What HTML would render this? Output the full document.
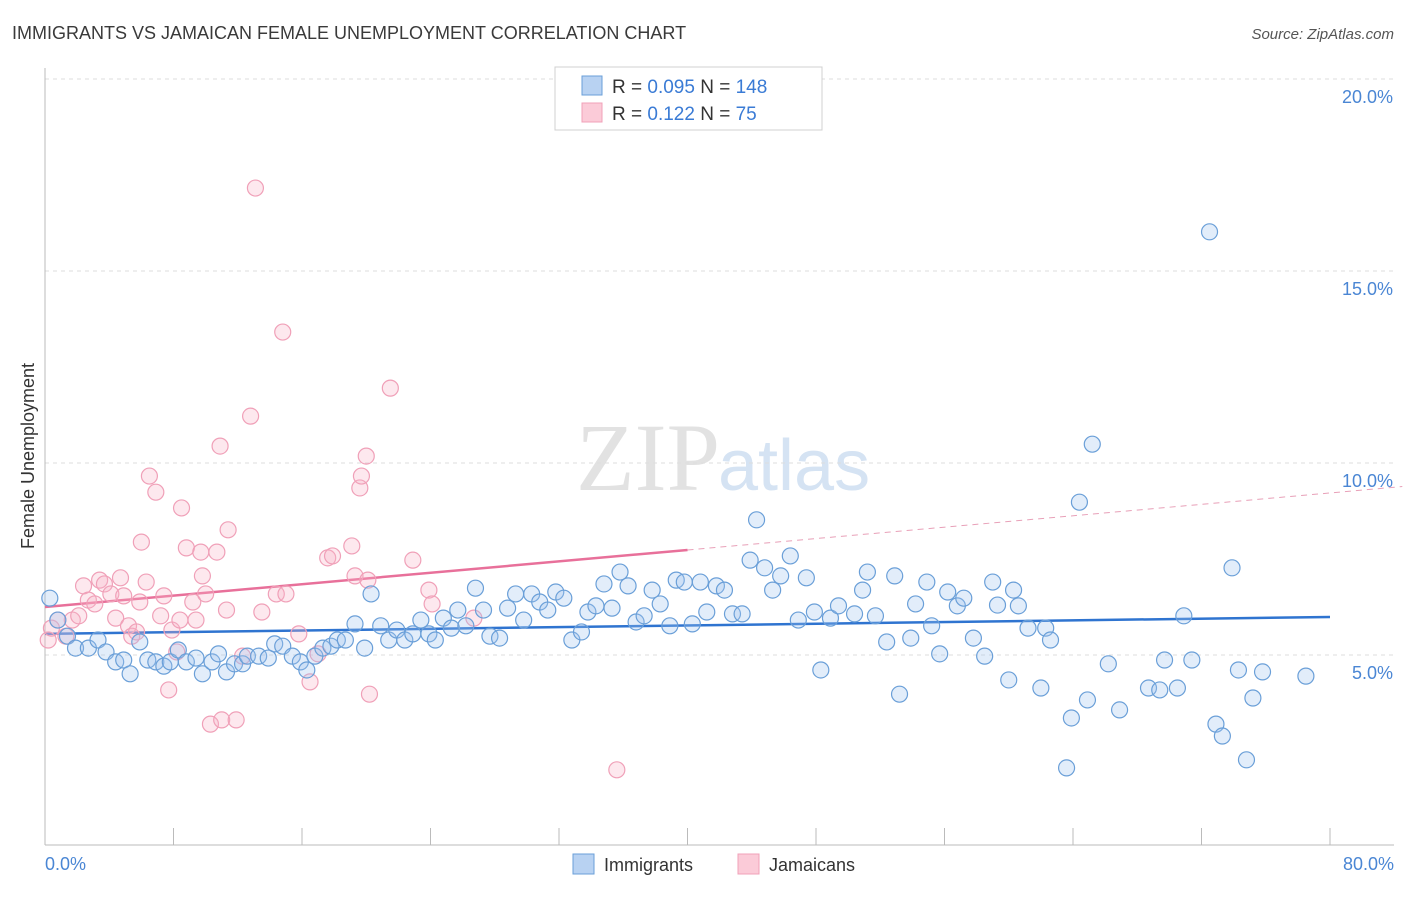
<!DOCTYPE html>
<html><head><meta charset="utf-8"><style>
body{margin:0;background:#fff;font-family:"Liberation Sans",sans-serif;}
</style></head><body>
<svg id="chart" width="1406" height="892" viewBox="0 0 1406 892" xmlns="http://www.w3.org/2000/svg" font-family="Liberation Sans, sans-serif">
<text x="12" y="39" font-size="18" fill="#3a3a3a">IMMIGRANTS VS JAMAICAN FEMALE UNEMPLOYMENT CORRELATION CHART</text>
<text x="1394" y="39" font-size="15" fill="#555" font-style="italic" text-anchor="end">Source: ZipAtlas.com</text>
<text x="720" y="490" font-size="96" fill="#e2e2e2" text-anchor="end" font-family="Liberation Serif, serif">ZIP</text>
<text x="718" y="490" font-size="72" fill="#d5e3f3">atlas</text>
<g id="grid"></g><g id="axes"></g><g id="trend"></g><g id="pts"></g>
<text transform="translate(34,456) rotate(-90)" font-size="18" fill="#333" text-anchor="middle">Female Unemployment</text>
<text x="45" y="870" font-size="18" fill="#4a86d4">0.0%</text>
<text x="1394" y="870" font-size="18" fill="#4a86d4" text-anchor="end">80.0%</text>
<g>
<rect x="555" y="67" width="267" height="63" fill="#fff" stroke="#d0d0d0"/>
<rect x="582" y="76" width="20" height="19" fill="#b8d2f2" stroke="#6a9fd8"/>
<rect x="582" y="103" width="20" height="19" fill="#fbcbd8" stroke="#f0a0b8"/>
<text x="612" y="93" font-size="19" fill="#333">R = <tspan fill="#3a7bd5">0.095</tspan>   N = <tspan fill="#3a7bd5">148</tspan></text>
<text x="612" y="120" font-size="19" fill="#333">R =  <tspan fill="#3a7bd5">0.122</tspan>   N =  <tspan fill="#3a7bd5">  75</tspan></text>
</g>
<g>
<rect x="573" y="854" width="21" height="20" fill="#b8d2f2" stroke="#6a9fd8"/>
<text x="604" y="871" font-size="18" fill="#333">Immigrants</text>
<rect x="738" y="854" width="21" height="20" fill="#fbcbd8" stroke="#f0a0b8"/>
<text x="769" y="871" font-size="18" fill="#333">Jamaicans</text>
</g>
</svg>
<script>
const yTicks=[5,10,15,20];
const xTicks=[0,8,16,24,32,40,48,56,64,72,80];
const blueX=[0.3,0.8,1.4,1.9,2.7,3.3,3.8,4.4,4.9,5.3,5.9,6.4,6.9,7.4,7.8,8.3,8.8,9.4,9.8,10.4,10.8,11.3,11.8,12.3,12.6,13.3,13.9,14.3,14.8,15.4,15.9,16.3,16.8,17.3,17.8,18.2,18.7,19.3,19.9,20.3,20.9,21.4,21.9,22.4,22.9,23.4,23.9,24.3,24.8,25.3,25.7,26.2,26.8,27.3,27.7,28.3,28.8,29.3,29.8,30.3,30.8,31.3,31.8,32.3,32.8,33.4,33.8,34.3,34.8,35.3,35.8,36.3,36.8,37.3,37.8,38.3,38.9,39.3,39.8,40.3,40.8,41.2,41.8,42.3,42.8,43.4,43.9,44.3,44.8,45.3,45.8,46.4,46.9,47.4,47.9,48.3,48.9,49.4,50.4,50.9,51.2,51.7,52.4,52.9,53.2,53.9,54.2,54.9,55.2,55.7,56.2,56.8,57.2,57.8,58.5,59.0,59.3,60.0,60.3,60.6,61.2,62.0,62.3,62.6,63.6,63.9,64.4,64.9,65.2,66.2,66.9,68.7,69.4,69.7,70.5,70.9,71.4,72.5,72.9,73.3,73.9,74.3,74.8,75.2,75.8,78.5];
const blueY=[6.48,5.91,5.49,5.18,5.18,5.39,5.08,4.82,4.87,4.51,5.34,4.87,4.82,4.71,4.82,5.13,4.82,4.92,4.51,4.82,5.03,4.56,4.77,4.77,4.97,4.97,4.92,5.29,5.23,4.97,4.82,4.61,4.97,5.18,5.23,5.39,5.39,5.81,5.18,6.59,5.76,5.39,5.65,5.39,5.55,5.91,5.55,5.39,5.96,5.70,6.17,5.76,6.74,6.17,5.49,5.44,6.22,6.59,5.91,6.59,6.38,6.17,6.64,6.48,5.39,5.60,6.12,6.28,6.85,6.22,7.16,6.80,5.86,6.02,6.69,6.33,5.76,6.95,6.90,5.81,6.90,6.12,6.80,6.69,6.07,6.07,7.47,8.52,7.27,6.69,7.06,7.58,5.91,7.01,6.12,4.61,5.96,6.28,6.07,6.69,7.16,6.02,5.34,7.06,3.98,5.44,6.33,6.90,5.76,5.03,6.64,6.28,6.48,5.44,4.97,6.90,6.30,4.35,6.69,6.28,5.70,4.14,5.70,5.39,2.06,3.36,8.98,3.83,10.49,4.77,3.57,4.14,4.09,4.87,4.14,6.02,4.87,16.02,3.20,2.89,7.27,4.61,2.27,3.88,4.56,4.45];
const pinkX=[0.2,0.4,0.8,1.3,1.7,2.1,2.4,2.7,3.1,3.4,3.7,4.1,4.4,4.7,4.9,5.2,5.4,5.7,5.9,6.0,6.3,6.5,6.9,7.2,7.4,7.7,7.9,8.2,8.4,8.5,8.8,9.2,9.4,9.7,9.8,10.0,10.3,10.7,10.9,11.0,11.3,11.4,11.9,12.3,12.8,13.1,13.5,14.4,14.8,15.0,15.8,16.5,17.0,17.6,17.9,19.1,19.3,19.6,19.7,20.0,20.1,20.2,21.5,22.9,23.9,24.1,26.7,35.6];
const pinkY=[5.39,5.70,5.91,5.49,5.91,6.02,6.80,6.43,6.33,6.95,6.85,6.59,5.96,7.01,6.54,5.76,5.49,5.60,6.38,7.94,6.90,9.66,9.24,6.02,6.54,4.09,5.65,5.08,5.91,8.83,7.79,6.38,5.91,7.68,7.06,6.59,3.20,7.68,10.44,3.31,6.17,8.26,3.31,4.97,11.22,17.16,6.12,6.59,13.41,6.59,5.55,4.30,5.03,7.53,7.58,7.84,7.06,9.35,9.66,10.18,6.95,3.98,11.95,7.47,6.69,6.33,5.96,2.01];
const blueTrend=[5.55,5.99];
const pinkTrend=[6.25,9.22];
const NS='http://www.w3.org/2000/svg';
const X0=45,X1=1330,YB=847,YS=38.4;
function sx(v){return X0+(v/80)*(X1-X0);}
function sy(v){return YB-v*YS;}
function mk(tag,attrs,parent){const e=document.createElementNS(NS,tag);for(const k in attrs)e.setAttribute(k,attrs[k]);document.getElementById(parent).appendChild(e);return e;}
yTicks.forEach(t=>{
 const l=mk('line',{x1:45,x2:1394,y1:sy(t),y2:sy(t),stroke:'#ddd','stroke-dasharray':'4,4'},'grid');
 
 
 const tx=mk('text',{x:1393,y:sy(t)+24,'font-size':18,fill:'#4a86d4','text-anchor':'end'},'grid');
 tx.textContent=t.toFixed(1)+'%';
 
 
});
const ax=mk('line',{x1:45,x2:45,y1:68,y2:845,stroke:'#bbb'},'axes');


const bx=mk('line',{x1:45,x2:1394,y1:845,y2:845,stroke:'#bbb'},'axes');


xTicks.forEach(t=>{
 const l=mk('line',{x1:sx(t),x2:sx(t),y1:828,y2:845,stroke:'#bbb'},'axes');
 
 
});
function dots(xs,ys,fill,stroke,name){
 xs.forEach((x,i)=>{
  const c=mk('circle',{cx:sx(x),cy:sy(ys[i]),r:8,fill:fill,stroke:stroke,'stroke-width':1.2},'pts');
  
  
 });
}
dots(pinkX,pinkY,'rgba(248,180,200,0.3)','#f0a0b8','jamaicans-point');
dots(blueX,blueY,'rgba(160,196,240,0.3)','#6a9fd8','immigrants-point');
const bt=mk('line',{x1:sx(0),y1:sy(blueTrend[0]),x2:sx(80),y2:sy(blueTrend[1]),stroke:'#2f74d0','stroke-width':2.5},'trend');


const pm=(pinkTrend[0]+pinkTrend[1])/2;
const pt=mk('line',{x1:sx(0),y1:sy(pinkTrend[0]),x2:sx(40),y2:sy(pm),stroke:'#e8709a','stroke-width':2.5},'trend');


const pd=mk('line',{x1:sx(40),y1:sy(pm),x2:sx(84.5),y2:sy(pinkTrend[0]+(pinkTrend[1]-pinkTrend[0])*84.5/80),stroke:'#e8a0b8','stroke-width':1,'stroke-dasharray':'6,5'},'trend');


</script>
</body></html>
